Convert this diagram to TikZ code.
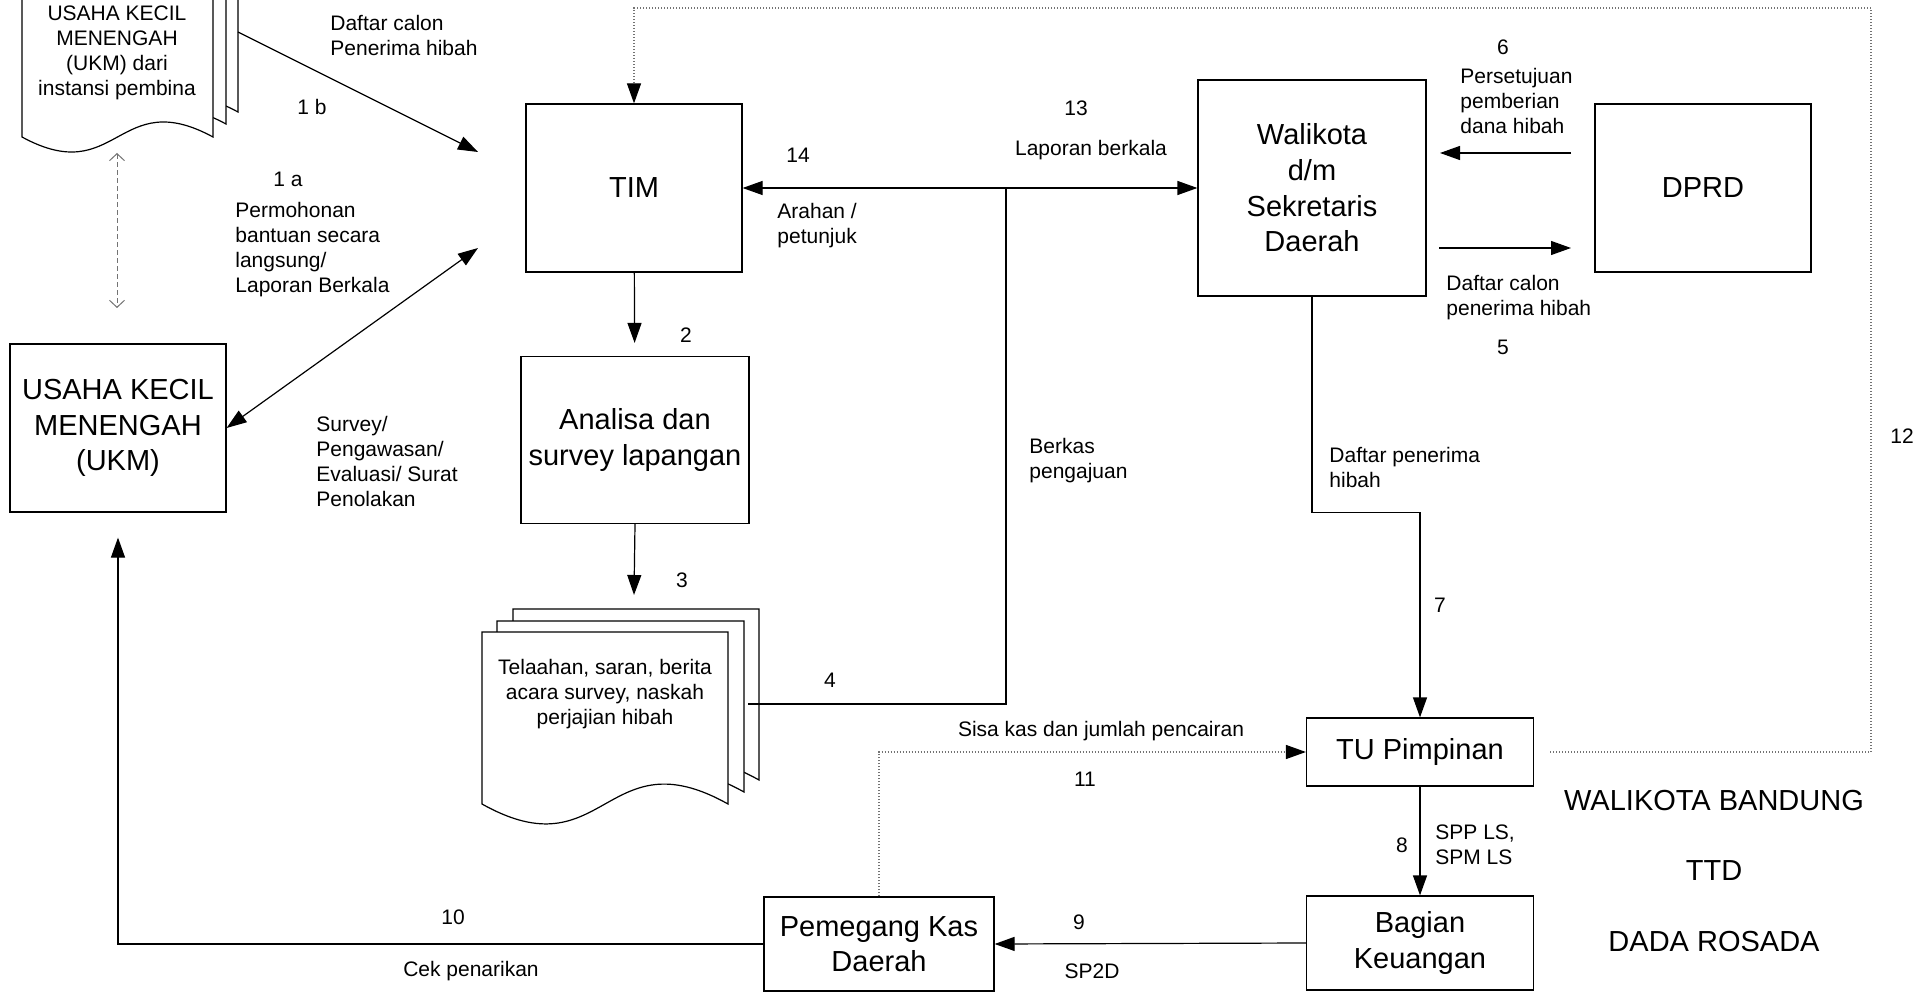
\documentclass[tikz,border=0pt]{standalone}
\usepackage{fontspec}
\setmainfont{Liberation Sans}
\usetikzlibrary{arrows.meta,positioning}

% one sheet of a document stack: left, top, right, bottom, wave
\newcommand{\docsheet}[5]{%
  \draw[sheet] (#1,#2) -- (#3,#2) -- (#3,#4)
    .. controls ({(#1+#3)/2},{#4-#5}) and ({(#1+#3)/2},{#4+#5}) .. (#1,#4) -- cycle;}

\begin{document}
\begin{tikzpicture}[
  x=0.5pt, y=-0.5pt,
  box/.style    ={draw, line width=.6pt, fill=white, align=center, inner sep=0pt,
                  font=\fontsize{14.5}{17.8}\selectfont},
  sheet/.style  ={draw, line width=.6pt, fill=white},
  doctext/.style={align=center, inner sep=0pt, font=\fontsize{10.5}{12.5}\selectfont},
  lbl/.style    ={align=left, anchor=west, inner sep=0pt, font=\fontsize{10.5}{12.5}\selectfont},
  num/.style    ={inner sep=0pt, font=\fontsize{10.5}{12.5}\selectfont},
  sign/.style   ={inner sep=0pt, font=\fontsize{14.5}{17.8}\selectfont},
  line/.style   ={line width=.6pt},
  flow/.style   ={-{Triangle[length=10pt,width=7pt]}, line width=.6pt},
  flow2/.style  ={{Triangle[length=10pt,width=7pt]}-{Triangle[length=10pt,width=7pt]}, line width=.6pt},
  dotflow/.style={-{Triangle[length=10pt,width=7pt,color=black]}, line width=.6pt, draw=black!55,
                  dash pattern=on .5pt off 1pt},
  link/.style   ={{Straight Barb[length=3.5pt,width=7.5pt]}-{Straight Barb[length=3.5pt,width=7.5pt]},
                  line width=.5pt, draw=black!55, dash pattern=on 2.5pt off 1.5pt},
]
\useasboundingbox (0,0) rectangle (1932,994);

% ---- document stacks
\docsheet{48}{-60}{238}{112}{52}
\docsheet{35}{-48}{226}{124}{52}
\docsheet{22}{-36}{213}{137}{52}
\node[doctext] (ukmlist) at (117,53) {USAHA KECIL\\MENENGAH\\(UKM) dari\\instansi pembina};

\docsheet{513}{609}{759}{780}{69}
\docsheet{497}{621}{744}{792}{69}
\docsheet{482}{632}{728}{804}{69}
\node[doctext] (telaah) at (605,694) {Telaahan, saran, berita\\acara survey, naskah\\perjajian hibah};

% ---- boxes
\node[box, minimum width=108pt, minimum height=84pt] (ukm) at (118,428) {USAHA KECIL\\MENENGAH\\(UKM)};
\node[box, minimum width=108pt, minimum height=84pt] (tim) at (634,188) {TIM};
\node[box, minimum width=114pt, minimum height=83.5pt] (analisa) at (635,440) {Analisa dan\\survey lapangan};
\node[box, minimum width=114pt, minimum height=108pt] (wali) at (1312,188) {Walikota\\d/m\\Sekretaris\\Daerah};
\node[box, minimum width=108pt, minimum height=84pt] (dprd) at (1703,188) {DPRD};
\node[box, minimum width=113.5pt, minimum height=34pt] (tu) at (1420,752) {TU Pimpinan};
\node[box, minimum width=113.5pt, minimum height=47pt] (bagian) at (1420,943) {Bagian\\Keuangan};
\node[box, minimum width=115pt, minimum height=47pt] (kas) at (879,944) {Pemegang Kas\\Daerah};

% ---- free ends
\coordinate (c1bs) at (238,32);
\coordinate (c1be) at (478,152);
\coordinate (c1a) at (478,248);
\coordinate (dtop) at (117,153);
\coordinate (dbot) at (117,308);
\coordinate (c3) at (634,595);
\coordinate (c4) at (748,704);
\coordinate (j13) at (1006,188);
\coordinate (c5s) at (1439,248);
\coordinate (c5e) at (1571,248);
\coordinate (c6s) at (1571,153);
\coordinate (c6e) at (1440,153);
\coordinate (c12) at (1871,8);

% ---- connectors
\draw[flow] (c1bs) -- (c1be);
\draw[flow2] (ukm.east) -- (c1a);
\draw[link] (dtop) -- (dbot);
\draw[flow, shorten >=6.5pt] (tim) -- (analisa);
\draw[flow] (analisa.south) -- (c3);
\draw[line] (c4) -| (j13);
\draw[flow] (j13) -- (tim.east);
\draw[flow] (j13) -- (wali.west);
\draw[flow] (c5s) -- (c5e);
\draw[flow] (c6s) -- (c6e);
\draw[flow] (wali.south) -- ++(0,216) -| (tu.north);
\draw[flow] (tu.south) -- (bagian.north);
\draw[flow] (bagian.west) -- (kas.east);
\draw[flow, shorten >=12.5pt] (kas.west) -| (ukm.south);
\draw[dotflow] (kas.north) |- (tu.west);
\draw[dotflow, shorten <=8pt] (tu.east) -| (c12) -| (tim.north);

% ---- labels
\node[lbl] at (330,35) {Daftar calon\\Penerima hibah};
\node[num] at (312,107) {1 b};
\node[num] at (288,179) {1 a};
\node[lbl] at (235,250) {Permohonan\\bantuan secara\\langsung/\\Laporan Berkala};
\node[lbl] at (316,461) {Survey/\\Pengawasan/\\Evaluasi/ Surat\\Penolakan};
\node[num] at (798,155) {14};
\node[lbl] at (777,226) {Arahan /\\petunjuk};
\node[num] at (1076,108) {13};
\node[num] at (1091,150) {Laporan berkala};
\node[num] at (686,335) {2};
\node[num] at (682,580) {3};
\node[lbl] at (1029,461) {Berkas\\pengajuan};
\node[num] at (830,680) {4};
\node[num] at (1101,731) {Sisa kas dan jumlah pencairan};
\node[num] at (1085,779) {11};
\node[num] at (1503,47) {6};
\node[lbl] at (1460,101) {Persetujuan\\pemberian\\dana hibah};
\node[lbl] at (1446,298) {Daftar calon\\penerima hibah};
\node[num] at (1503,347) {5};
\node[lbl] at (1329,467) {Daftar penerima\\hibah};
\node[num] at (1440,605) {7};
\node[num] at (1902,436) {12};
\node[num] at (1402,845) {8};
\node[lbl] at (1435,845) {SPP LS,\\SPM LS};
\node[num] at (1079,922) {9};
\node[num] at (1092,971) {SP2D};
\node[num] at (453,917) {10};
\node[num] at (471,971) {Cek penarikan};
\node[sign] at (1714,801) {WALIKOTA BANDUNG};
\node[sign] at (1714,871) {TTD};
\node[sign] at (1714,942) {DADA ROSADA};

\end{tikzpicture}
\end{document}
